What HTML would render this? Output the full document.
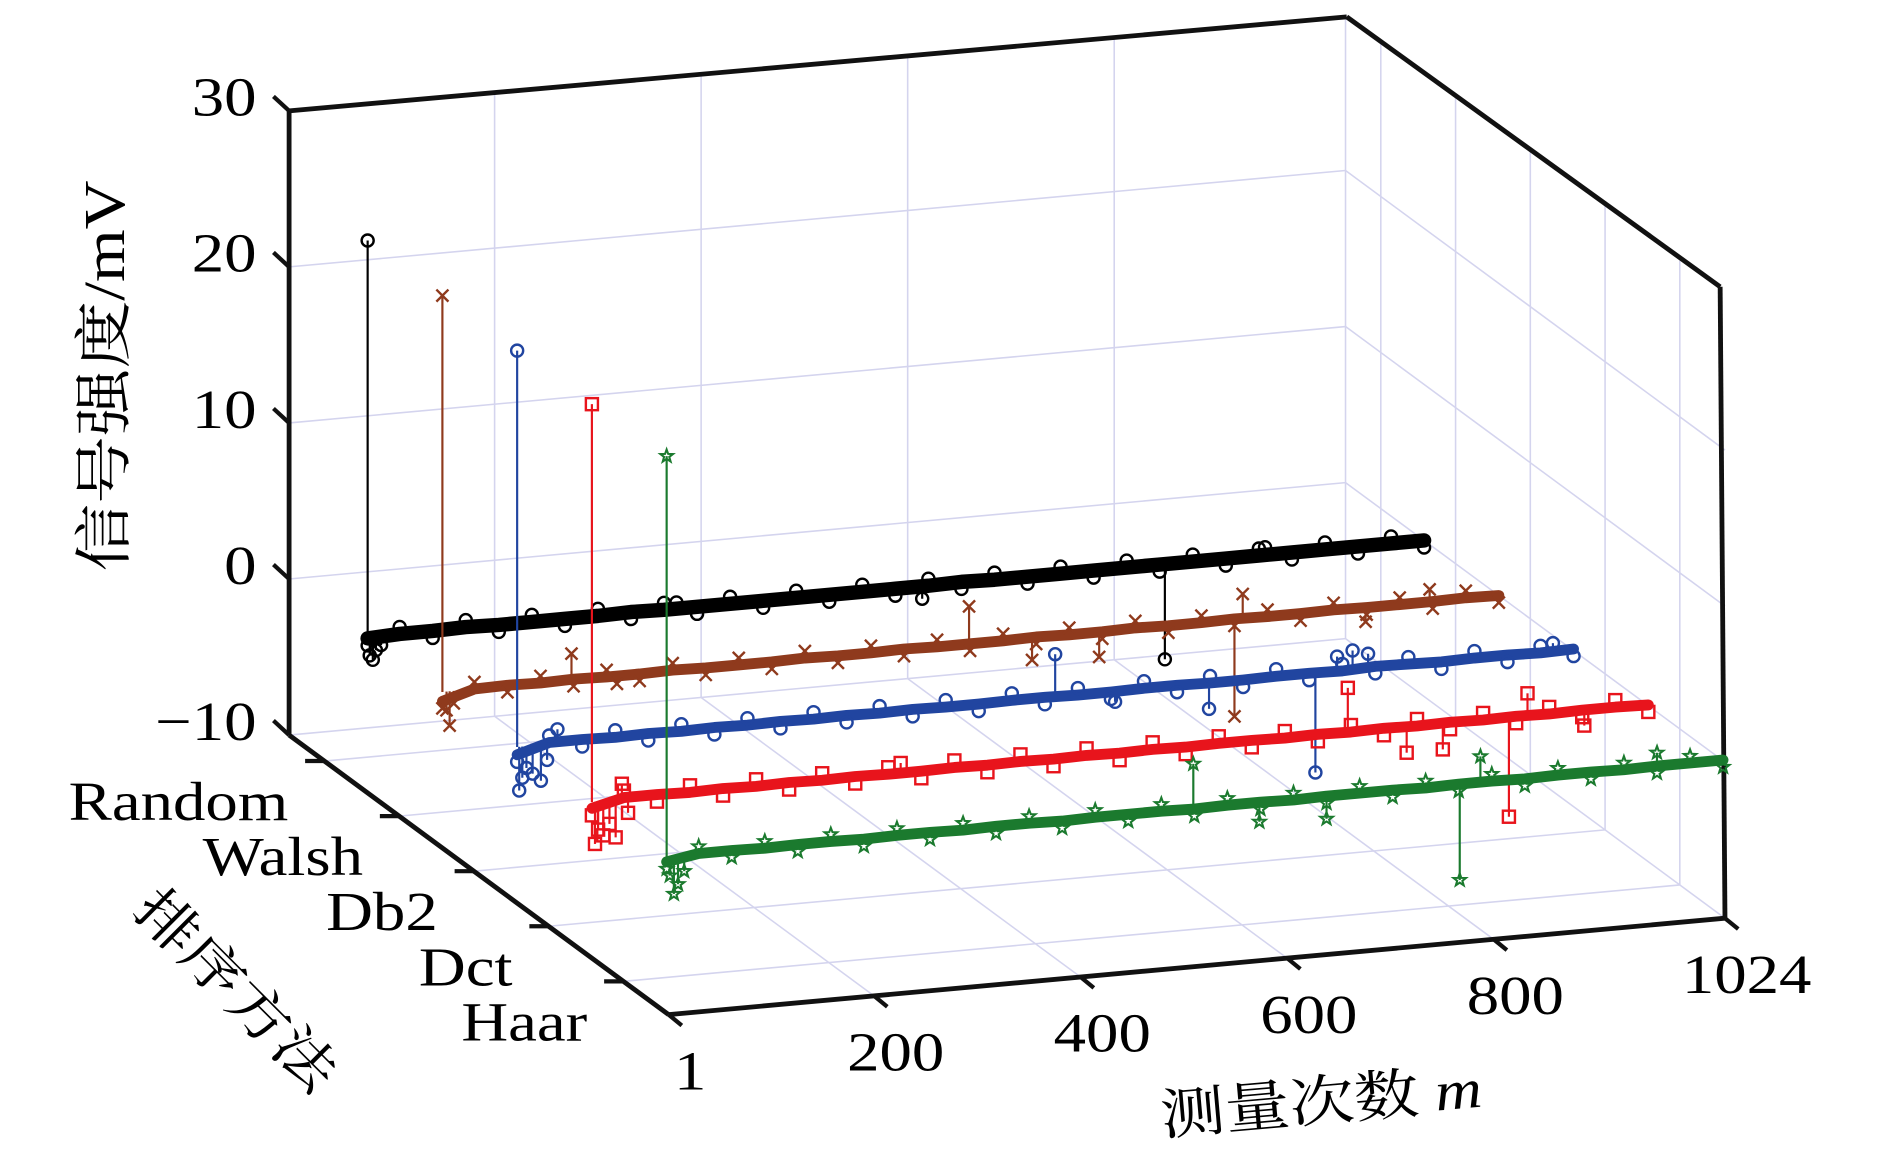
<!DOCTYPE html>
<html><head><meta charset="utf-8"><style>
html,body{margin:0;padding:0;background:#fff;}
svg{display:block;}
text{font-family:"Liberation Serif","Noto Serif CJK SC",serif;fill:#000;}
</style></head><body>
<svg id="chart" width="1890" height="1158" viewBox="0 0 1569 961" preserveAspectRatio="none" xmlns="http://www.w3.org/2000/svg">
<g id="grid"></g>
<g id="axes"></g>
<g id="series"></g>
<g id="labels">
<text class="wide" x="103" y="312" font-size="48" text-anchor="middle" transform="rotate(-90 103 312)" font-family="Liberation Serif, Noto Serif CJK SC, serif">信号强度/mV</text>
<text class="wide" x="185" y="833" font-size="46" text-anchor="middle" transform="rotate(45 185 833)" font-family="Liberation Serif, Noto Serif CJK SC, serif">排序方法</text>
<text class="wide" x="1098" y="930" font-size="46" text-anchor="middle" transform="rotate(-5 1098 930)" font-family="Liberation Serif, Noto Serif CJK SC, serif">测量次数 <tspan font-style="italic">m</tspan></text>
</g>
</svg>
<script>
const methods = ["Random","Walsh","Db2","Dct","Haar"];
const colors = ["#000000","#8f3a1d","#2145a0","#e8141c","#1b7a2e"];
const markers = ["circle","x","circle","square","star"];
const zTicks = [-10,0,10,20,30];
const mTicks = [1,200,400,600,800,1024];
const mSamples = [1,32,64,96,128,160,192,224,256,288,320,352,384,416,448,480,512,544,576,608,640,672,704,736,768,800,832,864,896,928,960,992,1024];
const baseRandom = [-0.1,0.0,0.0,0.05,0.0,0.0,0.0,0.0,0.05,0.0,0.0,0.0,0.0,0.0,0.0,0.0,0.0,0.0,0.05,0.0,0.0,0.0,0.0,0.0,0.0,0.0,0.0,0.0,0.0,0.0,0.0,0.0,0.0];
const baseWalsh = [-0.6,0.0,0.05,0.0,0.05,0.0,0.0,0.05,0.0,0.0,0.0,0.05,0.0,0.0,0.05,0.0,0.0,0.0,0.05,0.0,0.0,0.05,0.0,0.0,0.05,0.0,0.0,0.05,0.0,0.0,0.0,0.05,0.0];
const baseDb2 = [-0.5,0.1,0.1,0.05,0.1,0.05,0.1,0.05,0.1,0.05,0.1,0.05,0.1,0.05,0.05,0.1,0.1,0.05,0.05,0.1,0.1,0.05,0.05,0.1,0.1,0.05,0.15,0.1,0.05,0.1,0.1,0.05,0.1];
const baseDct = [-0.4,0.1,0.1,0.05,0.1,0.05,0.1,0.05,0.1,0.05,0.05,0.1,0.05,0.1,0.05,0.1,0.05,0.1,0.05,0.1,0.1,0.05,0.1,0.05,0.1,0.05,0.1,0.05,0.1,0.05,0.1,0.1,0.05];
const baseHaar = [-0.3,0.05,0.05,0.0,0.05,0.05,0.0,0.05,0.05,0.0,0.05,0.05,0.0,0.05,0.05,0.05,0.0,0.05,0.05,0.0,0.05,0.05,0.05,0.0,0.05,0.05,0.0,0.05,0.05,0.0,0.05,0.05,0.05];
const spikeM_Random = [1,3,6,9,14,300,538,773,870];
const spikeV_Random = [25.4,-1.2,-1.5,-0.9,-0.6,0.4,-0.8,-6.1,0.5];
const spikeM_Walsh = [1,5,8,12,126,170,511,572,637,768,776,895,957];
const spikeV_Walsh = [25.4,-1.2,-2.2,-0.8,1.7,-0.5,2.4,-1.4,-1.6,-6.2,1.6,-0.9,0.8];
const spikeM_Db2 = [1,3,6,10,16,24,30,40,522,580,671,774,795,810,825,1004];
const spikeV_Db2 = [25.4,-2.8,-2.0,-1.4,-1.8,-2.3,-1.0,0.9,2.8,-0.6,-1.6,-6.3,1.0,1.3,1.0,0.6];
const spikeM_Dct = [1,4,7,12,18,24,30,36,300,733,790,825,889,907,962];
const spikeV_Dct = [25.5,-2.7,-1.8,-2.2,-1.5,-2.4,1.0,-0.9,0.7,2.9,-1.6,-1.6,-6.3,1.5,-0.9];
const spikeM_Haar = [1,4,8,12,18,511,575,640,769,789,960];
const spikeV_Haar = [25.7,-1.2,-2.4,-1.8,-1.0,2.9,-1.2,-1.4,-6.1,1.7,0.9];
const bases = [baseRandom,baseWalsh,baseDb2,baseDct,baseHaar];
const spikeMs = [spikeM_Random,spikeM_Walsh,spikeM_Db2,spikeM_Dct,spikeM_Haar];
const spikeVs = [spikeV_Random,spikeV_Walsh,spikeV_Db2,spikeV_Dct,spikeV_Haar];

const NS="http://www.w3.org/2000/svg";
function mk(tag,attrs,parent){const e=document.createElementNS(NS,tag);for(const k in attrs)e.setAttribute(k,attrs[k]);parent.appendChild(e);return e;}
const O=[240,610], EX=[877,-80], EY=[315,232], ZS=12.95;
function zOff(z){return -ZS*(z+10);}
function P(f,t,z){return [O[0]+EX[0]*f+EY[0]*t, O[1]+EX[1]*f+EY[1]*t+zOff(z)];}
function fm(m){return (m-1)/1023;}
function tickT(k){return 0.093+0.197*k;}
function seriesT(k){return 0.207+0.197*k;}

const grid=document.getElementById('grid'), axes=document.getElementById('axes'), ser=document.getElementById('series');
const gc="#d4d4ee";
function line(a,b,par,st,w,name){const l=mk('line',{x1:a[0],y1:a[1],x2:b[0],y2:b[1],stroke:st,'stroke-width':w},par);

return l;}
zTicks.forEach(z=>{ if(z===-10||z===30) return;
 line(P(0,0,z),P(1,0,z),grid,gc,1.3,'z-grid-back');
 line(P(1,0,z),P(1,1,z),grid,gc,1.3,'z-grid-right');});
line(P(1,0,-10),P(1,1,-10),grid,gc,1.3,'floor-right-edge');
line(P(1,0,-10),P(1,0,30),grid,gc,1.3,'back-right-vertical');
mTicks.forEach(m=>{ if(m===1||m===1024) return; const f=fm(m);
 line(P(f,0,-10),P(f,0,30),grid,gc,1.3,'m-grid-back');
 line(P(f,0,-10),P(f,1,-10),grid,gc,1.3,'m-grid-floor');});
line(P(0,0,-10),P(1,0,-10),grid,gc,1.3,'floor-back-edge');
methods.forEach((nm,k)=>{const t=tickT(k);
 line(P(0,t,-10),P(1,t,-10),grid,gc,1.3,'depth-grid-floor');
 line(P(1,t,-10),P(1,t,30),grid,gc,1.3,'depth-grid-right');});

const ac="#111", aw=4;
line(P(0,0,-10),P(0,0,30),axes,ac,aw,'z-axis-line');
line(P(0,0,30),[1118,14],axes,ac,aw,'top-back-edge');
line([1118,14],[1428,238],axes,ac,aw,'top-right-edge');
line([1428,238],[1432,762],axes,ac,aw,'right-front-vertical');
line(P(0,1,-10),[1432,762],axes,ac,aw,'x-axis-line');
line(P(0,0,-10),P(0,1,-10),axes,ac,aw,'y-axis-line');
zTicks.forEach(z=>{const p=P(0,0,z);
 line(p,[p[0]-13,p[1]-12],axes,ac,3.5,'z-tick');
 const tx=mk('text',{x:213,y:p[1]+4,'font-size':46,'text-anchor':'end','class':'wide'},axes);
 tx.textContent=z<0?'\u2212'+Math.abs(z):String(z);
 
 });
methods.forEach((nm,k)=>{const p=P(0,tickT(k),-10);
 line(p,[p[0]-16,p[1]],axes,ac,3.5,'y-tick');
 const tx=mk('text',{x:p[0]-30,y:p[1]+49,'font-size':46,'text-anchor':'end','class':'wide'},axes);
 tx.textContent=nm;
 
 });
mTicks.forEach(m=>{const p=P(fm(m),1,-10);
 line(p,[p[0]+11,p[1]+9],axes,ac,3.5,'x-tick');
 const tx=mk('text',{x:p[0]+18,y:p[1]+62,'font-size':46,'text-anchor':'middle','class':'wide'},axes);
 tx.textContent=String(m);
 
 });

// widen text to mimic Computer Modern metrics
document.querySelectorAll('text.wide').forEach(t=>{const w=t.getComputedTextLength();
 t.setAttribute('textLength',(w*1.17).toFixed(1));t.setAttribute('lengthAdjust','spacingAndGlyphs');});

function marker(type,p,c,par){let e;const s=5;
 if(type==='circle'){e=mk('circle',{cx:p[0],cy:p[1],r:s,fill:'none',stroke:c,'stroke-width':2},par);}
 else if(type==='square'){e=mk('rect',{x:p[0]-s,y:p[1]-s,width:2*s,height:2*s,fill:'none',stroke:c,'stroke-width':2},par);}
 else if(type==='x'){e=mk('path',{d:`M${p[0]-s} ${p[1]-s}L${p[0]+s} ${p[1]+s}M${p[0]+s} ${p[1]-s}L${p[0]-s} ${p[1]+s}`,stroke:c,'stroke-width':2,fill:'none'},par);}
 else {let d='';for(let i=0;i<10;i++){const r=i%2?s*0.45:s*1.1;const a=-Math.PI/2+i*Math.PI/5;d+=(i?'L':'M')+(p[0]+r*Math.cos(a)).toFixed(1)+' '+(p[1]+r*Math.sin(a)).toFixed(1);}
  e=mk('path',{d:d+'Z',stroke:c,'stroke-width':1.7,fill:'none'},par);}
 
 
 return e;}

methods.forEach((nm,k)=>{const t=seriesT(k),c=colors[k];
 const g=mk('g',{},ser);
 
 
 spikeMs[k].forEach((m,i)=>{const f=fm(m);const a=P(f,t,0),b=P(f,t,spikeVs[k][i]);
  line(a,b,g,c,1.8,'stem');});
 const pts=mSamples.map((m,i)=>P(fm(m),t,bases[k][i]).map(v=>v.toFixed(1)).join(',')).join(' ');
 const pl=mk('polyline',{points:pts,fill:'none',stroke:c,'stroke-width':k===0?12:9,'stroke-linejoin':'round','stroke-linecap':'round'},g);
 
 
 mSamples.forEach((m,i)=>{marker(markers[k],P(fm(m),t,bases[k][i]+(i%2?0.45:-0.45)),c,g);});
 spikeMs[k].forEach((m,i)=>{marker(markers[k],P(fm(m),t,spikeVs[k][i]),c,g);});
});
</script>
</body></html>
